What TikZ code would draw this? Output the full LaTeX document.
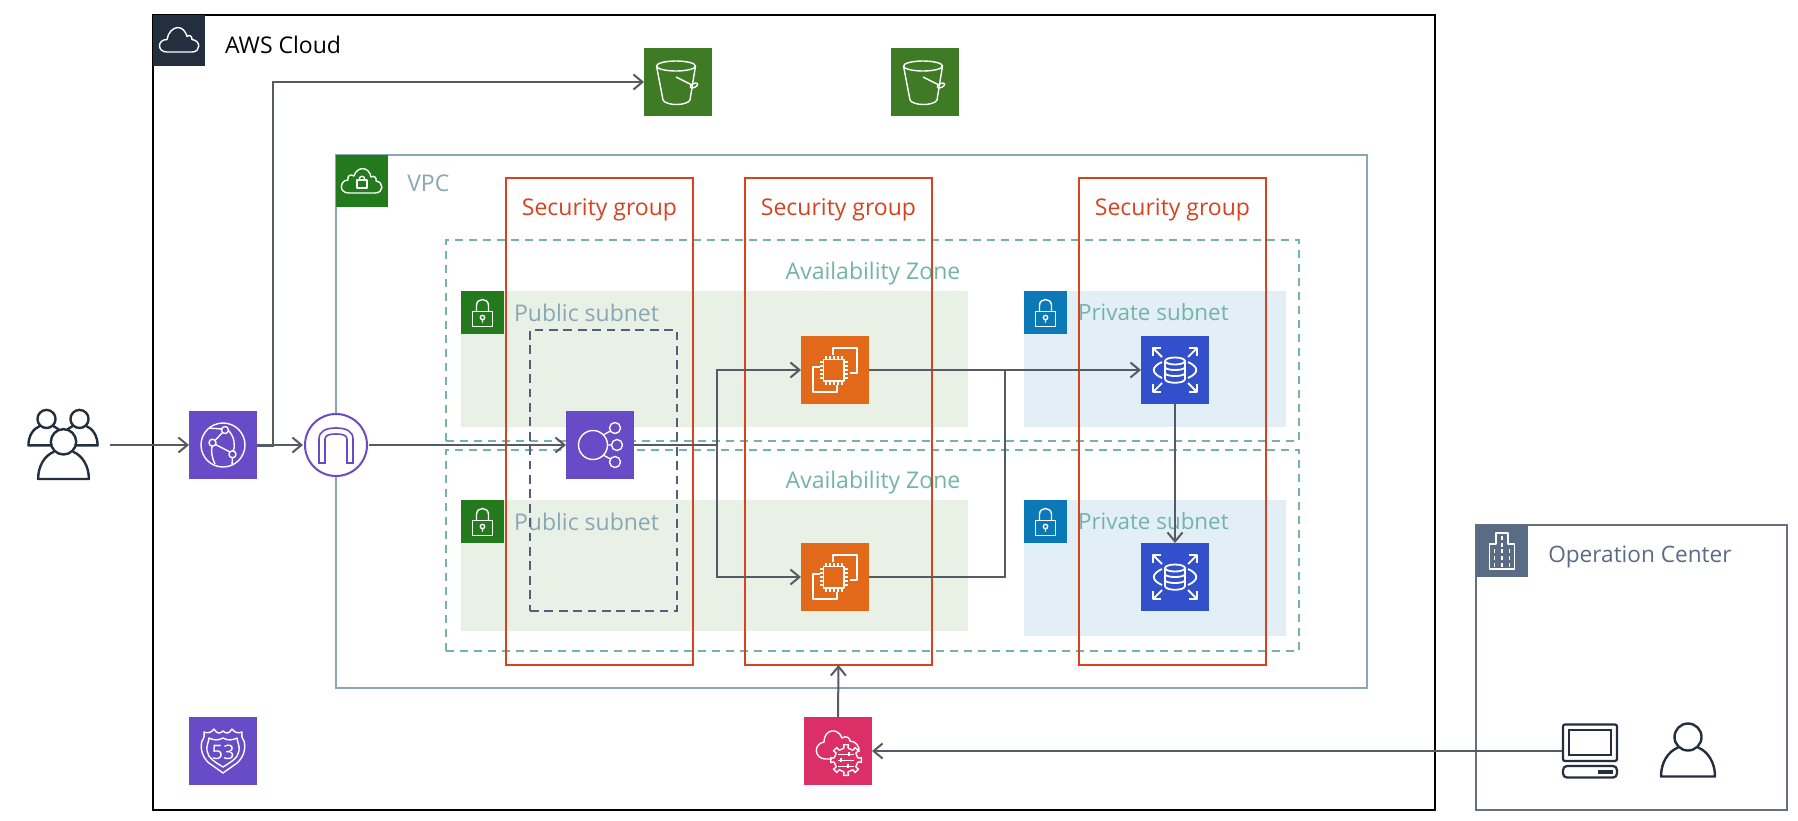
\documentclass[tikz,border=0pt]{standalone}
\usepackage{fontspec}
\setsansfont{Open Sans}
\usetikzlibrary{arrows.meta,positioning,fit}
\definecolor{cCloud}{HTML}{232F3E}
\definecolor{cVpc}{HTML}{87A8B4}
\definecolor{cVpcHead}{HTML}{237A1C}
\definecolor{cZone}{HTML}{73B4A6}
\definecolor{cPub}{HTML}{E9F0E5}
\definecolor{cPriv}{HTML}{E3EFF6}
\definecolor{cPrivHead}{HTML}{0B78B8}
\definecolor{cGroup}{HTML}{D8421F}
\definecolor{cDash}{HTML}{535D7E}
\definecolor{cStore}{HTML}{3F7A24}
\definecolor{cNet}{HTML}{684BC6}
\definecolor{cComp}{HTML}{E2691A}
\definecolor{cBase}{HTML}{3350CC}
\definecolor{cMgmt}{HTML}{DC2E67}
\definecolor{cOpen}{HTML}{666F82}
\definecolor{cOpenHead}{HTML}{5A6B86}
\definecolor{cInk}{HTML}{545B64}
\tikzset{
  font=\sffamily\fontsize{11.5}{14}\selectfont,
  frame/.style={draw=#1, line width=1pt, inner sep=0pt, outer sep=0pt},
  head/.style={fill=#1, draw=none, inner sep=0pt, outer sep=0pt, minimum size=26pt},
  lockhead/.style={fill=#1, draw=none, inner sep=0pt, outer sep=0pt, minimum size=21.5pt},
  subnet/.style={fill=#1, draw=none, inner sep=0pt, outer sep=0pt},
  zone/.style={draw=cZone, line width=.9pt, dash pattern=on 4.2pt off 2.8pt, inner sep=0pt, outer sep=0pt},
  svc/.style={fill=#1, draw=none, inner sep=0pt, outer sep=0pt, minimum size=34pt},
  free/.style={inner sep=0pt, outer sep=0pt, minimum width=27pt, minimum height=27pt},
  flow/.style={-{Straight Barb[length=4.5pt,width=7.5pt]}, line width=1pt, draw=cInk},
  link/.style={line width=1pt, draw=cInk},
  glyph/.style={draw=white, line width=.7pt, line join=round},
  dark/.style={draw=cCloud, line width=1.2pt, fill=white, line join=round},
  pics/cloud/.style={code={
    \draw[glyph] (-12,11.5) .. controls (-22,11.5) and (-22,-1) .. (-12,-1) .. controls (-11,-8) and (-6,-13) .. (-1,-13)
      .. controls (4,-13) and (7,-8) .. (8,-4) .. controls (10,-6) and (13,-5) .. (13,-1)
      .. controls (22,0) and (22,11.5) .. (13,11.5) -- cycle;}},
  pics/vpccloud/.style={code={
    \draw[glyph] (-13,12) .. controls (-24,12) and (-22,-1) .. (-14,-1) .. controls (-15,-6) and (-11,-7) .. (-8,-5)
      .. controls (-5,-15) and (7,-15) .. (9,-4) .. controls (12,-6) and (15,-3) .. (14,0)
      .. controls (22,1) and (22,12) .. (13,12) -- cycle;
    \draw[glyph] (-5,-1) rectangle (5,7);
    \draw[glyph] (-3,-1) .. controls (-3,-6) and (3,-6) .. (3,-1);}},
  pics/padlock/.style={code={
    \draw[glyph] (-10,-1) rectangle (10,14);
    \draw[glyph] (-6,-1) -- (-6,-7) .. controls (-6,-15) and (6,-15) .. (6,-7) -- (6,-1);
    \draw[glyph] (0,5) circle (2.2) (0,7) -- (0,10);}},
  pics/bucket/.style={code={
    \draw[glyph] (-2,-16) ellipse (19.5 and 5);
    \draw[glyph] (-21.5,-16) -- (-15,18) .. controls (-12,24) and (9,24) .. (12,18) -- (17.5,-16);
    \draw[glyph] (-2,-5) -- (14,3);
    \draw[glyph, rotate around={25:(16,3.5)}] (16,3.5) ellipse (4 and 2);}},
  pics/globe/.style={code={
    \draw[glyph] (0,0) circle (22);
    \draw[glyph, fill=cNet] (2,-15) circle (3.5) (-10.5,-2.3) circle (3.5) (9.5,9.3) circle (3.5);
    \draw[glyph] (-.5,-12.5) -- (-8,-4.5) (-7.5,-.5) -- (7,7) (5,-15) .. controls (12,-8) and (12,0) .. (10.5,6)
      (-1,-16) -- (-14,-17) (-11,1) .. controls (-12,7) and (-11,13) .. (-8,19) (9.5,12.8) -- (9,20);}},
  pics/arch/.style={code={
    \draw[draw=cNet, line width=.8pt] (-17,18) -- (-17,-6) .. controls (-17,-14) and (-10,-17) .. (0,-17)
      .. controls (10,-17) and (17,-14) .. (17,-6) -- (17,18) -- (11,18) -- (11,-6)
      .. controls (11,-10) and (6,-11) .. (0,-11) .. controls (-6,-11) and (-11,-10) .. (-11,-6) -- (-11,18) -- cycle;}},
  pics/balancer/.style={code={
    \draw[glyph] (-7,0) circle (14.5);
    \draw[glyph] (15,-17) circle (5.5) (17,0) circle (5.5) (15,17) circle (5.5);
    \draw[glyph] (3,-10) -- (10.5,-14) (7.5,0) -- (11.5,0) (3,10) -- (10.5,14);}},
  pics/chip/.style={code={
    \draw[glyph, line width=.9pt] (-2.3,-15) -- (-2.3,-21.7) -- (22.3,-21.7) -- (22.3,2.7) -- (15,2.7);
    \draw[glyph, line width=.9pt] (-15,-2.7) -- (-22.3,-2.7) -- (-22.3,21.7) -- (2.3,21.7) -- (2.3,15);
    \draw[glyph, line width=.9pt] (-11.5,-10.5) rectangle (9,11);
    \foreach \t in {-9,-5,-1,3,7} {
      \draw[glyph, line width=.6pt] (\t,-10.5) -- (\t,-14) (\t,11) -- (\t,14.5);
      \draw[glyph, line width=.6pt] (-11.5,\t+1) -- (-15,\t+1) (9,\t+1) -- (12.5,\t+1);
    }}},
  pics/database/.style={code={
    \draw[glyph, line width=.9pt] (-10,-9) -- (-10,9) .. controls (-10,14) and (10,14) .. (10,9) -- (10,-9);
    \draw[glyph, line width=.9pt] (0,-9) ellipse (10 and 3.5);
    \draw[glyph, line width=.9pt] (-10,-3) .. controls (-10,1) and (10,1) .. (10,-3);
    \draw[glyph, line width=.9pt] (-10,3) .. controls (-10,7) and (10,7) .. (10,3);
    \foreach \a/\b in {-1/-1,1/-1,-1/1,1/1} {
      \draw[glyph, line width=.9pt] (\a*13,\b*13) -- (\a*22,\b*22);
      \draw[glyph, line width=.9pt] (\a*22,\b*14) -- (\a*22,\b*22) -- (\a*14,\b*22);
    }
    \draw[glyph, line width=.9pt] (-13,-8) .. controls (-24,-3) and (-24,3) .. (-13,8);
    \draw[glyph, line width=.9pt] (13,-8) .. controls (24,-3) and (24,3) .. (13,8);}},
  pics/shield/.style={code={
    \draw[glyph] (0,-20) .. controls (3,-17) and (6,-17) .. (9,-22) .. controls (11,-19) and (15,-17) .. (19,-19)
      .. controls (18,-16) and (19,-13) .. (21,-10) .. controls (23,-3) and (21,6) .. (14,12) -- (0,22)
      -- (-14,12) .. controls (-21,6) and (-23,-3) .. (-21,-10) .. controls (-19,-13) and (-18,-16) .. (-19,-19)
      .. controls (-15,-17) and (-11,-19) .. (-9,-22) .. controls (-6,-17) and (-3,-17) .. (0,-20) -- cycle;
    \draw[glyph] (0,-13) .. controls (5,-10) and (10,-11) .. (14,-13) .. controls (14,-10) and (17,-5) .. (16,0)
      .. controls (15,7) and (8,11) .. (0,16) .. controls (-8,11) and (-15,7) .. (-16,0)
      .. controls (-17,-5) and (-14,-10) .. (-14,-13) .. controls (-10,-11) and (-5,-10) .. (0,-13) -- cycle;
    \node[text=white, inner sep=0pt, font=\sffamily\fontsize{10}{10}\selectfont] (fiftythree) at (0,1) {53};}},
  pics/cloudgear/.style={code={
    \draw[glyph] (-6,8) -- (-12,8) .. controls (-24,8) and (-25,-7) .. (-14,-9) .. controls (-14,-22) and (0,-24) .. (4,-13)
      .. controls (8,-16) and (12,-13) .. (12,-10) .. controls (18,-10) and (22,-4) .. (21,1);
    \foreach \a in {0,45,...,315}
      \draw[glyph] ([shift={(\a-9:12)}]8,9) -- ([shift={(\a-9:15.5)}]8,9) -- ([shift={(\a+9:15.5)}]8,9) -- ([shift={(\a+9:12)}]8,9);
    \foreach \a in {22.5,67.5,...,337.5}
      \draw[glyph] ([shift={(\a-13:12)}]8,9) -- ([shift={(\a+13:12)}]8,9);
    \foreach \t/\u in {3/11,9/3,15/10} {
      \draw[glyph, line width=.5pt] (0,\t) -- (16,\t);
      \draw[glyph, line width=.6pt] (\u,\t-2) -- (\u,\t+2);
    }}},
  pics/office/.style={code={
    \draw[glyph] (-12.5,18) -- (-12.5,-7) -- (-6,-7) -- (-6,-18) -- (6,-18) -- (6,-7) -- (12.5,-7) -- (12.5,18) -- cycle;
    \foreach \u in {-7.5,0,7.5} \draw[glyph, dash pattern=on 2pt off 1.5pt] (\u,-2) -- (\u,16);
    \draw[glyph, dash pattern=on 2pt off 1.5pt] (0,-15) -- (0,-4);}},
  pics/person/.style={code={
    \draw[dark] (-10,-3) .. controls (-20,1) and (-27,12) .. (-27,26) -- (27,26) .. controls (27,12) and (20,1) .. (10,-3);
    \draw[dark] (0,-13.5) circle (13.5);}},
  pics/desktop/.style={code={
    \draw[draw=cCloud, line width=1.1pt, rounded corners=1pt] (-27,-26.5) rectangle (27,10);
    \draw[draw=cCloud, line width=1.1pt] (-21,-21) rectangle (21,4);
    \draw[draw=cCloud, line width=1.1pt, rounded corners=2pt] (-27,15) rectangle (27,26.5);
    \fill[cCloud] (8,18.5) rectangle (23,23);}},
}

\begin{document}
\begin{tikzpicture}[x=.5pt, y=-.5pt]
\useasboundingbox (0,0) rectangle (1798,820);
\fill[white] (0,0) rectangle (1798,820);
% boxes
\node[frame=black, fit={(153,15)(1435,810)}] (aws) {};
\node[head=cCloud, anchor=north west, minimum height=25.5pt] (awshead) at (153,15) {};
\node[right=6.5pt of awshead, yshift=-2.2pt] (awslabel) {AWS Cloud};
\node[frame=cVpc, fit={(336,155)(1367,688)}] (vpc) {};
\node[head=cVpcHead, anchor=north west] (vpchead) at (336,155) {};
\node[right=6.1pt of vpchead, yshift=-1.3pt, text=cVpc] (vpclabel) {VPC};
\node[zone, fit={(446,240)(1299,441)}] (zonea) {};
\node[zone, fit={(446,450)(1299,651)}] (zoneb) {};
\node[text=cZone] (zonealabel) at (873,273.5) {Availability Zone};
\node[text=cZone] (zoneblabel) at (873,482.5) {Availability Zone};
% subnets
\node[subnet=cPub, fit={(461,291)(968,427)}] (puba) {};
\node[subnet=cPub, fit={(461,500)(968,631)}] (pubb) {};
\node[subnet=cPriv, fit={(1024,291)(1286,427)}] (priva) {};
\node[subnet=cPriv, fit={(1024,500)(1286,636)}] (privb) {};
\node[lockhead=cVpcHead, anchor=north west] (pubaicon) at (puba.north west) {};
\node[lockhead=cVpcHead, anchor=north west] (pubbicon) at (pubb.north west) {};
\node[lockhead=cPrivHead, anchor=north west] (privaicon) at (priva.north west) {};
\node[lockhead=cPrivHead, anchor=north west] (privbicon) at (privb.north west) {};
\foreach \n in {pubaicon,pubbicon,privaicon,privbicon} \pic at (\n) {padlock};
\node[right=1.5pt of pubaicon, text=cVpc] (pubalabel) {Public subnet};
\node[right=1.5pt of pubbicon, text=cVpc] (pubblabel) {Public subnet};
\node[right=2pt of privaicon, text=cZone, font=\sffamily\fontsize{11.2}{14}\selectfont] (privalabel) {Private subnet};
\node[right=2pt of privbicon, text=cZone, font=\sffamily\fontsize{11.2}{14}\selectfont] (privblabel) {Private subnet};
\node[draw=cDash, line width=.9pt, dash pattern=on 4.4pt off 2.8pt, inner sep=0pt, fit={(530,330)(677,611)}] (albbox) {};
% security groups
\node[frame=cGroup, fit={(506,178)(693,665)}] (sga) {};
\node[frame=cGroup, fit={(745,178)(932,665)}] (sgb) {};
\node[frame=cGroup, fit={(1079,178)(1266,665)}] (sgc) {};
\foreach \n in {sga,sgb,sgc} \node[text=cGroup, below=9pt of \n.north, inner sep=1pt] (\n label) {Security group};
% operation center
\node[frame=cOpen, fit={(1476,525)(1787,810)}] (opc) {};
\node[head=cOpenHead, anchor=north west] (opchead) at (1476,525) {};
\node[right=6.6pt of opchead, yshift=-3pt, text=cOpenHead, font=\sffamily\fontsize{11.3}{14}\selectfont] (opclabel) {Operation Center};
% services
\node[svc=cStore] (bucketa) at (678,82) {};
\node[svc=cStore, right=89.5pt of bucketa] (bucketb) {};
\node[svc=cNet] (cdn) at (223,445) {};
\node[circle, fill=white, draw=cNet, line width=1pt, minimum size=31pt, inner sep=0pt, outer sep=1pt] (igw) at (336,445) {};
\node[svc=cNet] (alb) at (600,445) {};
\node[svc=cComp] (ec2a) at (835,370) {};
\node[svc=cComp, below=69.5pt of ec2a] (ec2b) {};
\node[svc=cBase] (rdsa) at (1175,370) {};
\node[svc=cBase, below=69.5pt of rdsa] (rdsb) {};
\node[svc=cNet] (dns) at (223,751) {};
\node[svc=cMgmt] (mgmt) at (838,751) {};
\node[free, minimum width=36pt, minimum height=35pt] (users) at (63,445) {};
\node[free] (pc) at (1590,751) {};
\node[free] (staff) at (1688,750.5) {};
\coordinate (turn) at (273,82);
\coordinate (fork) at (717,445);
\coordinate (merge) at (1005,370);
% connectors
\draw[flow] ([xshift=5.5pt]users.east) -- (cdn.west);
\draw[flow] (cdn.east) -- (igw.west);
\draw[flow] ([yshift=-.5pt]cdn.east) -| (turn) -- (bucketa.west);
\draw[flow] (igw.east) -- (alb.west);
\draw[link] (alb.east) -- (fork);
\draw[flow] (fork) |- (ec2a.west);
\draw[flow] (fork) |- (ec2b.west);
\draw[flow] (ec2a.east) -- (rdsa.west);
\draw[link] (ec2b.east) -| (merge);
\draw[flow] (rdsa.south) -- (rdsb.north);
\draw[flow] (mgmt.north) -- (sgb.south);
\draw[flow] (pc.west) -- (mgmt.east);
% icons
\pic at (awshead) {cloud};
\pic at (vpchead) {vpccloud};
\pic at (opchead) {office};
\pic at (bucketa) {bucket};
\pic at (bucketb) {bucket};
\pic at (cdn) {globe};
\pic at (igw) {arch};
\pic at (alb) {balancer};
\pic at (ec2a) {chip};
\pic at (ec2b) {chip};
\pic at (rdsa) {database};
\pic at (rdsb) {database};
\pic at (dns) {shield};
\pic at (mgmt) {cloudgear};
\pic at (pc) {desktop};
\pic at (staff) {person};
\pic[scale=.67] at (46.5,428) {person};
\pic[scale=.67] at (79.5,428) {person};
\pic[scale=.94] at (63.5,454.5) {person};
\end{tikzpicture}
\end{document}
